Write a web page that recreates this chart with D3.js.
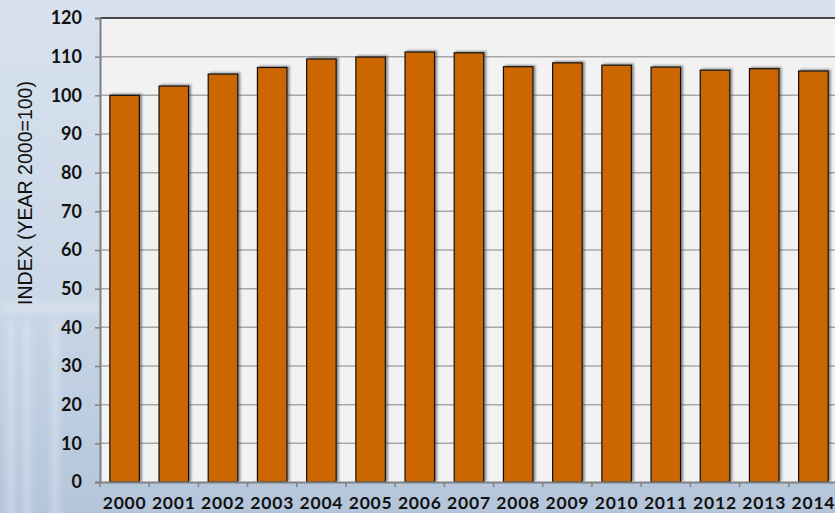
<!DOCTYPE html>
<html>
<head>
<meta charset="utf-8">
<script src="https://cdn.jsdelivr.net/npm/d3@7"></script>
<style>
  html, body { margin: 0; padding: 0; overflow: hidden; }
  svg { display: block; }
</style>
</head>
<body>
<svg id="chart" width="835" height="513"></svg>
<script>
// Index values by year (2000 = 100)
const years = ["2000","2001","2002","2003","2004","2005","2006","2007","2008","2009","2010","2011","2012","2013","2014"];
const indexValues = [100, 102.4, 105.5, 107.2, 109.4, 109.9, 111.2, 111.0, 107.4, 108.4, 107.8, 107.3, 106.5, 106.9, 106.3];
const yTicks = [0, 10, 20, 30, 40, 50, 60, 70, 80, 90, 100, 110, 120];
const yTitle = "INDEX (YEAR 2000=100)";

const W = 835, H = 513;
const plot = { left: 100, right: 838, top: 18, bottom: 482 };

const svg = d3.select("#chart");
const defs = svg.append("defs");

// backdrop: soft blue wash
const bg = defs.append("linearGradient").attr("id", "bg").attr("x1", 0).attr("y1", 0).attr("x2", 0).attr("y2", 1);
bg.append("stop").attr("offset", "0%").attr("stop-color", "#d8e2ee");
bg.append("stop").attr("offset", "55%").attr("stop-color", "#cbd8e7");
bg.append("stop").attr("offset", "100%").attr("stop-color", "#b4c5db");
svg.append("rect").attr("width", W).attr("height", H).attr("fill", "url(#bg)");

const haze = defs.append("filter").attr("id", "haze").attr("x", "-20%").attr("y", "-20%").attr("width", "140%").attr("height", "140%");
haze.append("feGaussianBlur").attr("stdDeviation", 3);
const deco = svg.append("g").attr("filter", "url(#haze)").attr("opacity", 0.45);
[8, 24, 52].forEach(x => deco.append("rect").attr("x", x).attr("y", 320).attr("width", 6).attr("height", 200).attr("fill", "#eef3f9"));
deco.append("rect").attr("x", 0).attr("y", 300).attr("width", 100).attr("height", 14).attr("fill", "#e3eaf3");

const shadow = defs.append("filter").attr("id", "shadow").attr("x", "-20%").attr("y", "-5%").attr("width", "150%").attr("height", "110%");
shadow.append("feDropShadow").attr("dx", 2).attr("dy", -1).attr("stdDeviation", 0.8)
  .attr("flood-color", "#444").attr("flood-opacity", 0.6);

const x = d3.scaleBand().domain(years).range([plot.left, plot.right]).paddingInner(0.4).paddingOuter(0.2);
const y = d3.scaleLinear().domain([0, 120]).range([plot.bottom, plot.top]);

// plot area
svg.append("rect")
  .attr("x", plot.left).attr("y", plot.top)
  .attr("width", plot.right - plot.left).attr("height", plot.bottom - plot.top)
  .attr("fill", "#f2f2f2");

// gridlines
svg.append("g").selectAll("line")
  .data(yTicks.filter(t => t > 0 && t < 120))
  .join("line")
  .attr("x1", plot.left).attr("x2", plot.right)
  .attr("y1", d => y(d)).attr("y2", d => y(d))
  .attr("stroke", "#a8a8a8").attr("stroke-width", 1.5);

// top border
svg.append("line")
  .attr("x1", plot.left).attr("x2", plot.right)
  .attr("y1", plot.top).attr("y2", plot.top)
  .attr("stroke", "#111").attr("stroke-width", 1.3);

// bars
svg.append("g").selectAll("rect")
  .data(years.map((yr, i) => ({ yr, v: indexValues[i] })))
  .join("rect")
  .attr("x", d => x(d.yr))
  .attr("y", d => y(d.v))
  .attr("width", x.bandwidth())
  .attr("height", d => y(0) - y(d.v))
  .attr("fill", "#cc6600")
  .attr("stroke", "#111")
  .attr("stroke-width", 1.2)
  .attr("filter", "url(#shadow)");

// y axis
const yAxis = svg.append("g")
  .attr("transform", `translate(${plot.left},0)`)
  .call(d3.axisLeft(y).tickValues(yTicks).tickSize(5).tickPadding(13).tickFormat(d3.format("d")));
yAxis.select(".domain").attr("stroke", "#808080").attr("stroke-width", 2);
yAxis.selectAll(".tick line").attr("stroke", "#808080").attr("stroke-width", 1.5);
yAxis.selectAll(".tick text")
  .attr("fill", "#111")
  .style("font-family", "Lato, 'DejaVu Sans', sans-serif")
  .style("font-weight", 700)
  .style("font-size", "18px");

// x axis
const xAxis = svg.append("g")
  .attr("transform", `translate(0,${plot.bottom})`)
  .call(d3.axisBottom(x).tickSize(0));
xAxis.select(".domain").attr("stroke", "#808080").attr("stroke-width", 2);
xAxis.selectAll(".tick text")
  .attr("y", 27)
  .attr("dy", null)
  .attr("fill", "#111")
  .style("font-family", "Lato, 'DejaVu Sans', sans-serif")
  .style("font-weight", 700)
  .style("font-size", "17.5px")
  .style("letter-spacing", "0.8px");

// category boundary ticks
const step = x.step();
svg.append("g").selectAll("line")
  .data(d3.range(years.length + 1))
  .join("line")
  .attr("x1", i => plot.left + i * step).attr("x2", i => plot.left + i * step)
  .attr("y1", plot.bottom).attr("y2", plot.bottom + 5)
  .attr("stroke", "#808080").attr("stroke-width", 1.5);

// axis title
svg.append("text")
  .attr("transform", `translate(31.5,193) rotate(-90)`)
  .attr("text-anchor", "middle")
  .attr("fill", "#111")
  .style("font-family", "'Liberation Sans', Arial, sans-serif")
  .style("font-size", "19.5px")
  .text(yTitle);
</script>
</body>
</html>
